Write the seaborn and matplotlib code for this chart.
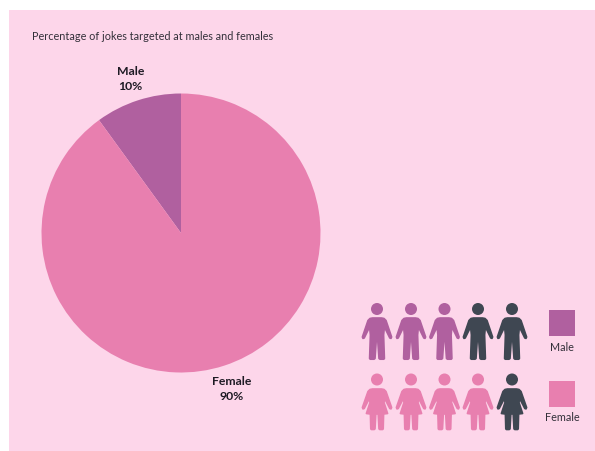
import matplotlib
matplotlib.use("Agg")
import matplotlib.pyplot as plt
import seaborn as sns
from matplotlib.path import Path
from matplotlib.patches import PathPatch, Circle, Rectangle

# Chart data
categories = ["Male", "Female"]
joke_shares = [10, 90]
icons_per_row = 5
highlighted_icons = [3, 4]
title_text = "Percentage of jokes targeted at males and females"

# Colours
PAGE = "#FDD6EA"
SERIES = ["#B0609F", "#E87FAF"]
SLATE = "#3F4752"
INK = "#33303A"

W, H = 595, 452

sns.set_theme(style="white", rc={"font.family": ["Lato", "DejaVu Sans"]})
plt.rcParams["font.family"] = ["Lato", "DejaVu Sans"]
palette = sns.color_palette(SERIES)

fig = plt.figure(figsize=(W / 100, H / 100), dpi=100, facecolor="white")
fig.patches.append(Rectangle((9 / W, 0), (W - 9) / W, (H - 11) / H,
                             transform=fig.transFigure, color=PAGE, lw=0, zorder=-1))

# Pie, with pie limits spanning 1.25 radii either side of the centre
cx, cy, r = 181, 234, 139.5
half = r * 1.25
pie_ax = fig.add_axes([(cx - half) / W, (H - cy - half) / H, 2 * half / W, 2 * half / H],
                      facecolor="none")
pie_labels = [f"{c}\n{v}%" for c, v in zip(categories, joke_shares)]
pie_ax.pie(joke_shares, labels=pie_labels, colors=palette, startangle=90,
           counterclock=True, labeldistance=1.167, radius=1,
           wedgeprops=dict(linewidth=0, edgecolor="none"),
           textprops=dict(ha="center", va="center", fontsize=8.8, fontweight="bold",
                          color="#1E1A24", linespacing=1.5))
pie_ax.set_xlim(-1.25, 1.25)
pie_ax.set_ylim(-1.25, 1.25)

# Overlay in pixel units for the title, icons and legend
ax = fig.add_axes([0, 0, 1, 1], facecolor="none")
ax.set_xlim(0, W)
ax.set_ylim(H, 0)
ax.axis("off")

ax.text(32, 36, title_text, fontsize=7.8, color=INK, ha="left", va="center")

# Right halves of the two silhouettes, mirrored when drawn (x from centre, y from icon top)
MALE_HALF = [(0, 15), (4.5, 15), (7, 15.5), (9, 17.5), (14.6, 34), (14, 35.4), (12.8, 35),
             (7.4, 24), (6.6, 32), (7.4, 55.5), (6.8, 56.2), (3, 56.2), (2, 55.5),
             (0.5, 34), (0, 34)]
FEMALE_HALF = [(0, 15.5), (4.5, 15.5), (7, 16), (9, 18), (14.6, 34), (14, 35.4), (12.8, 35),
               (7.6, 25), (7, 29), (10.6, 40), (6.6, 40.5), (6.2, 55.4), (5.6, 56),
               (2.8, 56), (2, 55.4), (1.2, 40.5), (0, 40.5)]


def draw_person(x, top, half_outline, color):
    outline = half_outline + [(-px, py) for px, py in reversed(half_outline[:-1])]
    verts = [(x + px, top + py) for px, py in outline] + [(x, top + outline[0][1])]
    codes = [Path.MOVETO] + [Path.LINETO] * (len(verts) - 2) + [Path.CLOSEPOLY]
    ax.add_patch(PathPatch(Path(verts, codes), facecolor=color, edgecolor=color,
                           lw=1.2, joinstyle="round"))
    ax.add_patch(Circle((x, top + 6), 6, facecolor=color, edgecolor="none"))


columns = [377, 411, 444.5, 478, 512]
row_tops = [304, 374.5]
outlines = [MALE_HALF, FEMALE_HALF]
for i, category in enumerate(categories):
    for j in range(icons_per_row):
        shade = palette[i] if j < highlighted_icons[i] else SLATE
        draw_person(columns[j], row_tops[i], outlines[i], shade)

# Legend swatches and captions
swatch_tops = [311, 382]
label_ys = [348, 418]
for i, category in enumerate(categories):
    ax.add_patch(Rectangle((549, swatch_tops[i]), 26, 26, facecolor=palette[i], edgecolor="none"))
    ax.text(562, label_ys[i], category, fontsize=7.8, color=INK, ha="center", va="center")

fig.savefig("out.png", dpi=100, facecolor="white")
